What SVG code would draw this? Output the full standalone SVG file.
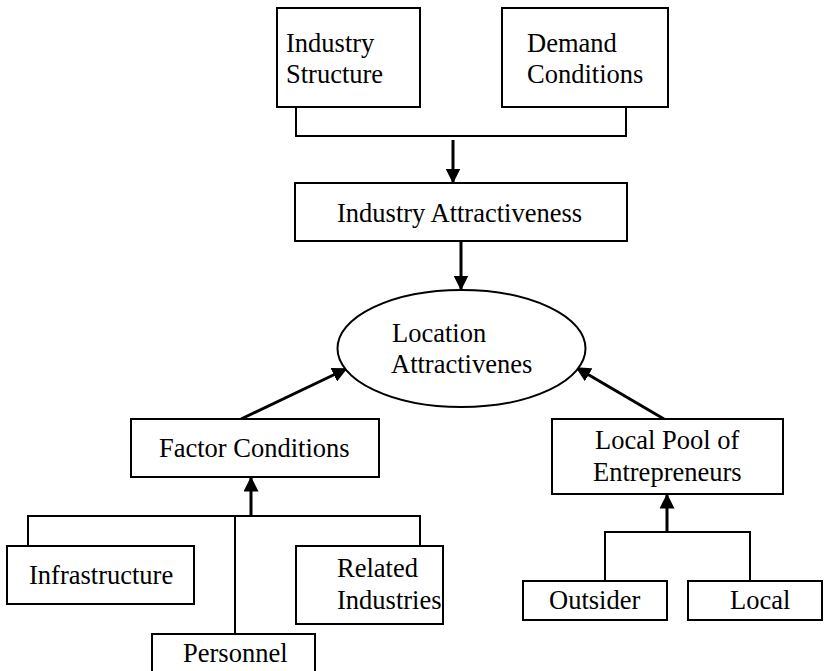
<svg xmlns="http://www.w3.org/2000/svg" width="824" height="671" viewBox="0 0 824 671">
  <style>
    .box { fill: #ffffff; stroke: #000000; stroke-width: 2; }
    .line { fill: none; stroke: #000000; stroke-width: 2; }
    .arrow { fill: none; stroke: #000000; stroke-width: 3; marker-end: url(#head); }
    text { font-family: "Liberation Serif", "Times New Roman", serif; font-size: 26.5px; fill: #000000; }
  </style>
  <defs>
    <marker id="head" viewBox="0 0 10 10" refX="9" refY="5" markerWidth="5" markerHeight="5" markerUnits="strokeWidth" orient="auto">
      <path d="M0,0 L10,5 L0,10 Z" fill="#000000"/>
    </marker>
  </defs>
  <rect width="824" height="671" fill="#ffffff"/>

  <g id="connectors">
    <!-- top bracket into Industry Attractiveness -->
    <polyline class="line" points="296,107 296,136 626,136 626,107"/>
    <line class="arrow" x1="453" y1="140" x2="453" y2="182"/>
    <line class="arrow" x1="461" y1="241" x2="461" y2="289"/>
    <!-- side inputs into the ellipse -->
    <line class="arrow" x1="241" y1="419" x2="346" y2="369"/>
    <line class="arrow" x1="664" y1="419" x2="577" y2="368"/>
    <!-- factor conditions bracket -->
    <polyline class="line" points="28,546 28,516 420,516 420,546"/>
    <line class="line" x1="235" y1="516" x2="235" y2="634"/>
    <line class="arrow" x1="251" y1="517" x2="251" y2="478"/>
    <!-- entrepreneurs bracket -->
    <polyline class="line" points="605,581 605,532 750,532 750,581"/>
    <line class="arrow" x1="667" y1="533" x2="667" y2="495"/>
  </g>

  <g id="industry-structure">
    <rect class="box" x="277" y="8" width="143" height="99"/>
    <text x="286" y="52">Industry</text>
    <text x="286" y="83">Structure</text>
  </g>
  <g id="demand-conditions">
    <rect class="box" x="502" y="8" width="166" height="99"/>
    <text x="527" y="52">Demand</text>
    <text x="527" y="83">Conditions</text>
  </g>
  <g id="industry-attractiveness">
    <rect class="box" x="295" y="183" width="332" height="58"/>
    <text x="337" y="222">Industry Attractiveness</text>
  </g>
  <g id="location-attractiveness">
    <ellipse class="box" cx="461.5" cy="348.5" rx="124" ry="58.5"/>
    <text x="392" y="342">Location</text>
    <text x="391" y="373">Attractivenes</text>
  </g>
  <g id="factor-conditions">
    <rect class="box" x="131" y="419" width="248" height="58"/>
    <text x="159" y="457">Factor Conditions</text>
  </g>
  <g id="local-pool">
    <rect class="box" x="552" y="419" width="231" height="75"/>
    <text x="595" y="449">Local Pool of</text>
    <text x="593" y="481">Entrepreneurs</text>
  </g>
  <g id="infrastructure">
    <rect class="box" x="7" y="546" width="187" height="58"/>
    <text x="29" y="584">Infrastructure</text>
  </g>
  <g id="related-industries">
    <rect class="box" x="296" y="546" width="147" height="78"/>
    <text x="337" y="577">Related</text>
    <text x="337" y="609">Industries</text>
  </g>
  <g id="personnel">
    <rect class="box" x="152" y="634" width="163" height="50"/>
    <text x="183" y="662">Personnel</text>
  </g>
  <g id="outsider">
    <rect class="box" x="523" y="581" width="144" height="39"/>
    <text x="549" y="609">Outsider</text>
  </g>
  <g id="local">
    <rect class="box" x="688" y="581" width="134" height="39"/>
    <text x="730" y="609">Local</text>
  </g>
</svg>
